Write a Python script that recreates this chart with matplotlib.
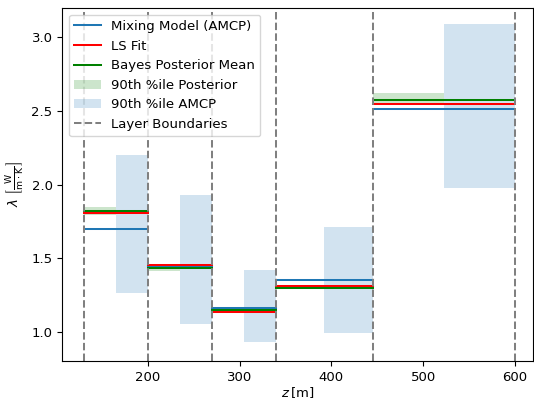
"""
Layer-wise thermal conductivity: AMCP mixing model vs LS fit vs Bayes posterior.
"""
import numpy as np
import matplotlib
matplotlib.use("Agg")
import matplotlib.pyplot as plt
from matplotlib.patches import Patch
from matplotlib.lines import Line2D

plt.rcParams["font.size"] = 9.5

# layer boundaries in depth z [m]
boundaries = [130, 200, 270, 340, 445, 600]

# per-layer conductivity estimates
amcp_mean = [1.70, 1.45, 1.165, 1.353, 2.514]
ls_fit = [1.805, 1.454, 1.138, 1.312, 2.548]
bayes_mean = [1.818, 1.436, 1.151, 1.298, 2.573]

# 90th percentile intervals
post_lo = [1.795, 1.415, 1.140, 1.290, 2.540]
post_hi = [1.845, 1.455, 1.165, 1.315, 2.620]
amcp_lo = [1.267, 1.052, 0.930, 0.991, 1.974]
amcp_hi = [2.200, 1.929, 1.420, 1.714, 3.088]

BLUE = "#1f77b4"
LW = 1.45


def plot_layers(ax):
    for i in range(len(amcp_mean)):
        z0, z1 = boundaries[i], boundaries[i + 1]
        zm = 0.5 * (z0 + z1)
        # posterior band on the first half of the layer, AMCP band on the second
        ax.fill_between([z0, zm], post_lo[i], post_hi[i], color="g", alpha=0.2, lw=0)
        ax.fill_between([zm, z1], amcp_lo[i], amcp_hi[i], color=BLUE, alpha=0.2, lw=0)
        ax.plot([z0, z1], [amcp_mean[i]] * 2, color=BLUE, lw=LW)
        ax.plot([z0, z1], [ls_fit[i]] * 2, color="r", lw=LW)
        ax.plot([z0, z1], [bayes_mean[i]] * 2, color="g", lw=LW)
    for z in boundaries:
        ax.axvline(z, color="gray", ls="--", lw=LW)


fig = plt.figure(figsize=(5.34, 4.01), dpi=100)
ax = fig.add_axes([0.1167, 0.0998, 0.882, 0.880])
plot_layers(ax)

ax.set_xlim(106.6, 620.2)
ax.set_ylim(0.803, 3.197)
ax.set_xlabel(r"$z\,$[m]", labelpad=1)
ax.set_ylabel(r"$\lambda\ \left[\frac{\mathrm{W}}{\mathrm{m}\cdot\mathrm{K}}\right]$")

handles = [
    Line2D([], [], color=BLUE, lw=LW),
    Line2D([], [], color="r", lw=LW),
    Line2D([], [], color="g", lw=LW),
    Patch(facecolor="g", alpha=0.2, lw=0),
    Patch(facecolor=BLUE, alpha=0.2, lw=0),
    Line2D([], [], color="gray", ls="--", lw=LW),
]
labels = ["Mixing Model (AMCP)", "LS Fit", "Bayes Posterior Mean",
          "90th %ile Posterior", "90th %ile AMCP", "Layer Boundaries"]
ax.legend(handles, labels, loc="upper left")

fig.savefig("out.png", dpi=100)
